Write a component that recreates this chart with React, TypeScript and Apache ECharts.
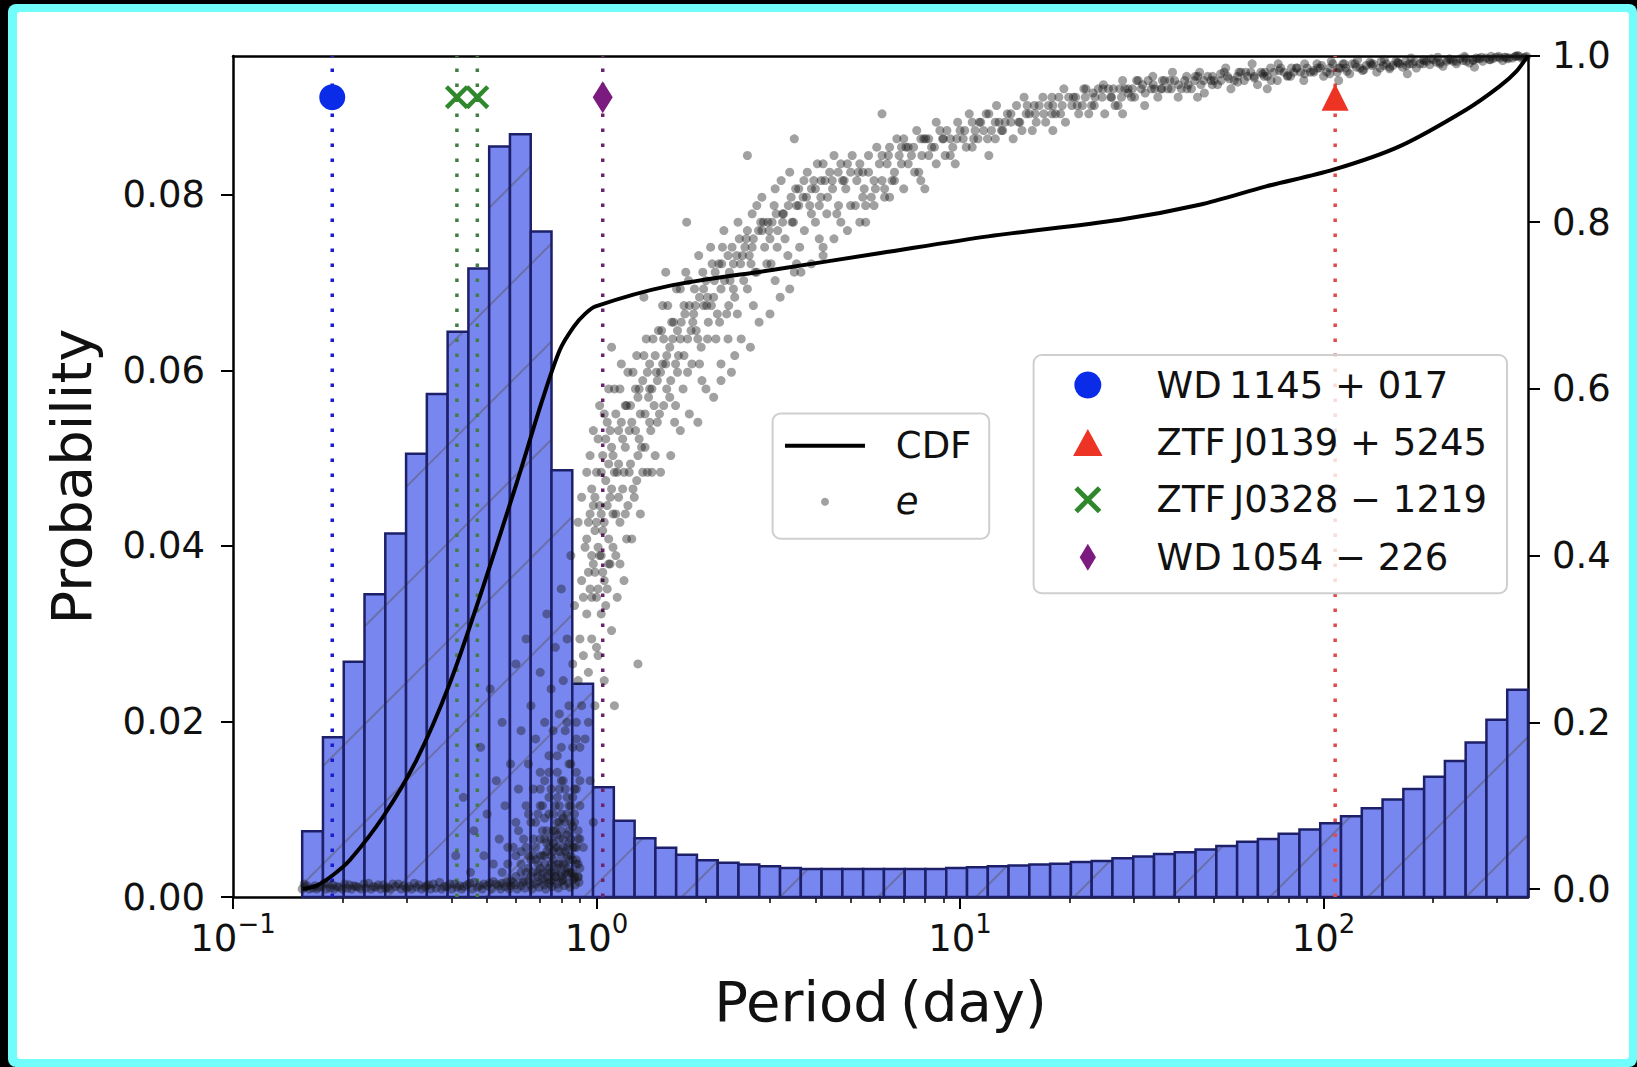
import React, { useEffect, useRef } from 'react';
import * as echarts from 'echarts';

const FONT = 'DejaVu Sans';

// ---- axes ranges ----
const periodMin = 0.1;
const periodMax = 365;
const probMax = 0.0958;

// ---- histogram (59 log-uniform bins between these edges) ----
const histFirstEdge = 0.155;
const histLastEdge = 365;
const histProb = [
  0.0075, 0.0182, 0.0268, 0.0345, 0.0414, 0.0505, 0.0573, 0.0644, 0.0716, 0.0855,
  0.0869, 0.0758, 0.0486, 0.0243, 0.0125, 0.0087, 0.0067, 0.0056, 0.0048, 0.0042,
  0.0039, 0.0037, 0.0035, 0.0033, 0.0032, 0.0032, 0.0032, 0.0032, 0.0032, 0.0032,
  0.0032, 0.0033, 0.0034, 0.0035, 0.0036, 0.0037, 0.0038, 0.0040, 0.0041, 0.0044,
  0.0046, 0.0049, 0.0051, 0.0054, 0.0058, 0.0063, 0.0066, 0.0072, 0.0077, 0.0084,
  0.0092, 0.0101, 0.0111, 0.0123, 0.0137, 0.0155, 0.0176, 0.0202, 0.0236,
];

// ---- CDF ----
const cdfPeriods = [0.1556, 0.17, 0.19, 0.21, 0.259, 0.32, 0.395, 0.487, 0.603, 0.71, 0.793, 0.867, 0.93, 0.994, 1.561, 3.07, 6.05, 11.95, 27.5, 45.6, 69.5, 106.4, 161.7, 246.6, 304.8, 339, 365];
const cdfValues = [0, 0.004, 0.018, 0.035, 0.087, 0.155, 0.247, 0.362, 0.487, 0.587, 0.647, 0.675, 0.69, 0.699, 0.723, 0.743, 0.763, 0.783, 0.803, 0.821, 0.843, 0.863, 0.891, 0.935, 0.963, 0.981, 1.0];

// ---- eccentricity e vs period ----
const eccCircular = [
  [0.155, 0], [0.158, 0.002], [0.162, 0], [0.166, 0.001], [0.17, 0], [0.175, 0.003], [0.18, 0], [0.185, 0.001], [0.19, 0], [0.196, 0.002],
  [0.2, 0], [0.206, 0.001], [0.212, 0], [0.218, 0.003], [0.225, 0], [0.232, 0.001], [0.24, 0], [0.247, 0.002], [0.255, 0], [0.263, 0.001],
  [0.27, 0], [0.28, 0.003], [0.29, 0], [0.3, 0.001], [0.31, 0], [0.32, 0.002], [0.33, 0], [0.34, 0.004], [0.35, 0], [0.362, 0.001],
  [0.375, 0], [0.387, 0.003], [0.4, 0], [0.413, 0.002], [0.426, 0], [0.44, 0.005], [0.455, 0], [0.47, 0.002], [0.485, 0], [0.5, 0.004],
  [0.515, 0], [0.53, 0.006], [0.545, 0], [0.56, 0.003], [0.575, 0], [0.59, 0.008], [0.605, 0], [0.62, 0.004], [0.635, 0.001], [0.65, 0.01],
  [0.665, 0], [0.68, 0.006], [0.695, 0.002], [0.71, 0.012], [0.725, 0], [0.74, 0.007], [0.755, 0.003], [0.77, 0.015], [0.785, 0.001], [0.8, 0.009],
  [0.815, 0.004], [0.83, 0.018], [0.845, 0.002], [0.86, 0.011], [0.875, 0.005], [0.89, 0.014],
  [0.157, 0.006], [0.168, 0.004], [0.178, 0.007], [0.188, 0.005], [0.203, 0.006], [0.215, 0.004], [0.236, 0.007], [0.251, 0.005], [0.275, 0.006], [0.295, 0.004],
  [0.315, 0.007], [0.345, 0.005], [0.37, 0.008], [0.395, 0.006], [0.42, 0.004], [0.46, 0.008], [0.49, 0.006], [0.52, 0.009], [0.55, 0.007], [0.58, 0.004],
  [0.16, 0.004], [0.172, 0.002], [0.183, 0.006], [0.193, 0.003], [0.209, 0.005], [0.221, 0.002], [0.229, 0.006], [0.243, 0.003], [0.259, 0.005], [0.267, 0.002],
  [0.285, 0.006], [0.305, 0.003], [0.325, 0.005], [0.338, 0.002], [0.356, 0.006], [0.381, 0.003], [0.407, 0.006], [0.432, 0.003], [0.448, 0.007], [0.477, 0.004],
  [0.508, 0.007], [0.538, 0.004], [0.567, 0.008], [0.598, 0.005], [0.627, 0.008], [0.658, 0.005], [0.688, 0.009], [0.718, 0.005], [0.748, 0.01], [0.778, 0.006],
  [0.808, 0.012], [0.838, 0.007], [0.868, 0.013], [0.895, 0.008],
];
const eccShort = [
  [0.41, 0.04], [0.43, 0.11], [0.45, 0.02], [0.46, 0.07], [0.48, 0.17], [0.49, 0.04], [0.5, 0.09], [0.51, 0.24], [0.52, 0.03], [0.53, 0.13],
  [0.54, 0.06], [0.55, 0.2], [0.56, 0.1], [0.57, 0.03], [0.58, 0.15], [0.59, 0.05], [0.6, 0.27], [0.6, 0.08], [0.61, 0.12], [0.62, 0.02],
  [0.62, 0.19], [0.63, 0.06], [0.64, 0.1], [0.64, 0.3], [0.65, 0.04], [0.65, 0.15], [0.66, 0.08], [0.66, 0.22], [0.67, 0.02], [0.67, 0.12],
  [0.68, 0.05], [0.68, 0.18], [0.69, 0.09], [0.69, 0.03], [0.7, 0.14], [0.7, 0.26], [0.7, 0.06], [0.71, 0.02], [0.71, 0.1], [0.72, 0.2],
  [0.72, 0.04], [0.72, 0.13], [0.73, 0.07], [0.73, 0.33], [0.73, 0.02], [0.74, 0.16], [0.74, 0.09], [0.74, 0.05], [0.75, 0.24], [0.75, 0.12],
  [0.75, 0.03], [0.76, 0.07], [0.76, 0.19], [0.76, 0.01], [0.77, 0.1], [0.77, 0.05], [0.77, 0.29], [0.78, 0.14], [0.78, 0.03], [0.78, 0.08],
  [0.79, 0.21], [0.79, 0.06], [0.79, 0.12], [0.8, 0.02], [0.8, 0.17], [0.8, 0.09], [0.8, 0.36], [0.81, 0.05], [0.81, 0.13], [0.81, 0.25],
  [0.82, 0.03], [0.82, 0.08], [0.82, 0.19], [0.83, 0.11], [0.83, 0.04], [0.83, 0.3], [0.84, 0.15], [0.84, 0.07], [0.84, 0.22], [0.85, 0.02],
  [0.85, 0.1], [0.85, 0.4], [0.86, 0.17], [0.86, 0.05], [0.86, 0.27], [0.87, 0.12], [0.87, 0.08], [0.87, 0.34], [0.88, 0.03], [0.88, 0.2],
  [0.88, 0.14], [0.89, 0.06], [0.89, 0.25], [0.89, 0.44], [0.9, 0.1], [0.9, 0.3], [0.9, 0.17], [0.91, 0.37], [0.91, 0.22], [0.92, 0.05], [0.92, 0.28],
  [0.6, 0.015], [0.62, 0.045], [0.64, 0.02], [0.66, 0.035], [0.67, 0.06], [0.69, 0.015], [0.7, 0.04], [0.71, 0.07], [0.72, 0.01], [0.73, 0.045],
  [0.74, 0.025], [0.75, 0.06], [0.76, 0.035], [0.77, 0.015], [0.78, 0.05], [0.79, 0.03], [0.8, 0.07], [0.81, 0.01], [0.82, 0.045], [0.83, 0.065],
  [0.84, 0.02], [0.85, 0.04], [0.86, 0.075], [0.87, 0.015], [0.88, 0.05], [0.89, 0.03], [0.9, 0.06], [0.76, 0.09], [0.79, 0.1], [0.83, 0.09],
  [0.86, 0.11], [0.72, 0.085],
  [0.55, 0.02], [0.57, 0.05], [0.58, 0.01], [0.6, 0.04], [0.61, 0.07], [0.63, 0.01], [0.64, 0.05], [0.65, 0.09], [0.66, 0.015], [0.67, 0.04],
  [0.68, 0.08], [0.69, 0.02], [0.7, 0.1], [0.71, 0.04], [0.72, 0.06], [0.73, 0.015], [0.74, 0.11], [0.75, 0.04], [0.76, 0.055], [0.77, 0.02],
  [0.78, 0.11], [0.79, 0.045], [0.8, 0.015], [0.81, 0.085], [0.82, 0.12], [0.83, 0.025], [0.84, 0.1], [0.85, 0.06], [0.86, 0.035], [0.87, 0.09],
  [0.88, 0.12], [0.89, 0.015], [0.9, 0.13], [0.74, 0.14], [0.8, 0.13], [0.85, 0.15], [0.7, 0.12], [0.78, 0.16], [0.88, 0.18], [0.83, 0.2],
  [0.62, 0.03], [0.65, 0.025], [0.68, 0.035], [0.7, 0.025], [0.72, 0.03], [0.73, 0.055], [0.75, 0.02], [0.76, 0.045], [0.77, 0.07], [0.78, 0.025],
  [0.79, 0.08], [0.8, 0.04], [0.81, 0.06], [0.82, 0.02], [0.83, 0.05], [0.84, 0.035], [0.85, 0.08], [0.86, 0.02], [0.87, 0.05], [0.88, 0.035],
  [0.89, 0.07], [0.9, 0.025], [0.84, 0.055], [0.81, 0.03], [0.78, 0.065],
];
const eccBand = [
  [0.93, 0.41], [0.93, 0.18], [0.94, 0.33], [0.94, 0.5], [0.95, 0.26], [0.95, 0.44], [0.96, 0.36], [0.96, 0.13], [0.97, 0.48], [0.97, 0.3],
  [0.98, 0.39], [0.98, 0.55], [0.99, 0.22], [0.99, 0.43], [1.0, 0.35], [1.0, 0.5], [1.01, 0.28], [1.01, 0.41], [1.02, 0.58], [1.02, 0.46],
  [1.03, 0.33], [1.04, 0.52], [1.04, 0.38], [1.05, 0.44], [1.05, 0.25], [1.06, 0.49], [1.07, 0.36], [1.07, 0.56], [1.08, 0.42], [1.09, 0.47],
  [1.1, 0.31], [1.1, 0.53], [1.11, 0.45], [1.12, 0.6], [1.13, 0.4], [1.14, 0.5], [1.15, 0.55], [1.16, 0.44], [1.17, 0.63], [1.18, 0.48],
  [1.19, 0.37], [1.2, 0.53], [1.21, 0.58], [1.22, 0.46], [1.24, 0.51], [1.25, 0.42], [1.26, 0.62], [1.28, 0.55], [1.29, 0.49], [1.3, 0.59],
  [1.32, 0.45], [1.33, 0.53], [1.35, 0.64], [1.36, 0.57], [1.38, 0.5], [1.4, 0.6], [1.41, 0.55], [1.43, 0.66], [1.45, 0.52], [1.47, 0.61],
  [1.49, 0.57], [1.12, 0.22], [0.98, 0.08], [1.3, 0.27], [1.77, 0.8], [1.1, 0.65], [1.35, 0.71], [2.6, 0.88], [1.55, 0.74],
  [1.51, 0.67], [1.53, 0.58], [1.55, 0.63], [1.57, 0.7], [1.6, 0.61], [1.62, 0.66], [1.64, 0.56], [1.66, 0.72], [1.68, 0.64], [1.71, 0.68],
  [1.73, 0.6], [1.76, 0.74], [1.78, 0.66], [1.8, 0.7], [1.83, 0.63], [1.86, 0.72], [1.88, 0.67], [1.91, 0.76], [1.94, 0.65], [1.97, 0.7],
  [2.0, 0.73], [2.03, 0.68], [2.06, 0.77], [2.1, 0.71], [2.13, 0.66], [2.17, 0.75], [2.2, 0.72], [2.24, 0.79], [2.28, 0.69], [2.32, 0.74],
  [2.36, 0.77], [2.4, 0.71], [2.45, 0.8], [2.49, 0.75],
  [2.54, 0.73], [2.58, 0.78], [2.63, 0.76], [2.68, 0.81], [2.73, 0.74], [2.79, 0.79], [2.85, 0.83], [2.9, 0.77], [2.96, 0.8], [3.02, 0.75],
  [3.08, 0.82], [3.15, 0.79], [3.22, 0.85], [3.3, 0.78], [3.37, 0.82], [3.45, 0.8], [3.53, 0.84], [3.62, 0.77], [3.7, 0.83], [3.8, 0.86],
  [3.9, 0.81], [4.0, 0.84], [4.1, 0.82], [4.2, 0.87], [4.32, 0.83], [4.45, 0.85], [4.58, 0.81], [4.7, 0.87], [4.85, 0.84], [5.0, 0.86],
  [3.5, 0.9], [6.1, 0.93], [2.2, 0.61], [4.2, 0.77],
  [1.03, 0.45], [1.08, 0.51], [1.15, 0.47], [1.23, 0.55], [1.31, 0.54], [1.39, 0.59], [1.46, 0.62], [1.52, 0.63], [1.59, 0.65], [1.67, 0.67],
  [1.75, 0.69], [1.84, 0.68], [1.92, 0.71], [2.01, 0.7], [2.11, 0.73], [2.21, 0.75], [2.33, 0.73], [2.43, 0.76], [2.56, 0.77], [2.7, 0.78],
  [2.83, 0.8], [2.98, 0.79], [3.12, 0.81], [3.27, 0.81], [3.43, 0.83], [3.6, 0.82], [3.78, 0.83], [3.96, 0.85], [4.15, 0.85], [4.38, 0.86],
  [4.62, 0.86], [4.9, 0.87],
  [0.91, 0.47], [0.92, 0.35], [0.94, 0.42], [0.95, 0.2], [0.96, 0.52], [0.97, 0.4], [0.99, 0.47], [1.0, 0.29], [1.01, 0.54], [1.03, 0.4],
  [1.05, 0.57], [1.06, 0.34], [1.08, 0.6], [1.09, 0.39], [1.11, 0.52], [1.13, 0.57], [1.14, 0.35], [1.16, 0.6], [1.18, 0.54], [1.2, 0.45],
  [1.22, 0.62], [1.24, 0.58], [1.27, 0.47], [1.29, 0.64], [1.31, 0.6], [1.34, 0.5], [1.37, 0.66], [1.4, 0.63], [1.42, 0.5], [1.44, 0.58], [1.48, 0.67],
  [1.52, 0.7], [1.56, 0.6], [1.61, 0.68], [1.65, 0.63], [1.7, 0.72], [1.74, 0.64], [1.79, 0.73], [1.85, 0.69], [1.9, 0.66], [1.96, 0.74],
  [2.02, 0.71], [2.08, 0.75], [2.15, 0.69], [2.22, 0.77], [2.3, 0.76], [2.38, 0.72], [2.47, 0.78], [2.6, 0.79], [2.66, 0.75], [2.76, 0.82],
  [2.88, 0.8], [3.0, 0.78], [3.1, 0.84], [3.25, 0.8], [3.4, 0.86], [3.55, 0.82], [3.72, 0.85], [3.9, 0.84], [4.05, 0.87], [4.25, 0.85],
  [4.5, 0.88], [4.75, 0.85], [2.4, 0.64], [3.5, 0.74],
  [0.95, 0.38], [0.96, 0.45], [0.97, 0.35], [0.98, 0.46], [0.99, 0.38], [1.0, 0.44], [1.01, 0.36], [1.02, 0.4], [1.03, 0.5], [1.04, 0.43],
  [1.05, 0.37], [1.06, 0.54], [1.07, 0.46], [1.08, 0.39], [1.09, 0.55], [1.1, 0.48], [1.11, 0.41], [1.12, 0.5], [1.13, 0.45], [1.15, 0.51],
  [1.16, 0.39], [1.17, 0.56], [1.19, 0.5], [1.2, 0.58], [1.21, 0.42], [1.23, 0.5], [1.25, 0.56], [1.26, 0.48], [1.28, 0.6], [1.3, 0.52],
  [1.32, 0.57], [1.34, 0.61], [1.36, 0.53], [1.38, 0.62], [1.4, 0.56], [1.42, 0.6], [1.45, 0.64], [1.47, 0.56], [1.5, 0.62], [1.53, 0.66],
  [1.56, 0.64], [1.59, 0.59], [1.63, 0.68], [1.67, 0.62], [1.7, 0.66], [1.74, 0.7], [1.78, 0.62], [1.82, 0.67], [1.87, 0.7], [1.92, 0.63], [1.97, 0.72],
  [2.02, 0.66], [2.07, 0.7], [2.12, 0.74], [2.18, 0.68], [2.25, 0.73], [2.31, 0.7], [2.38, 0.75], [2.44, 0.69], [2.52, 0.76], [2.6, 0.72],
  [2.68, 0.77], [2.76, 0.74], [2.85, 0.79], [2.94, 0.75], [3.04, 0.8], [3.14, 0.77], [3.25, 0.81], [3.36, 0.76], [3.48, 0.8], [3.6, 0.84],
  [3.73, 0.79], [3.86, 0.82], [4.0, 0.8], [4.14, 0.83], [4.3, 0.81], [4.46, 0.84], [4.63, 0.82], [4.8, 0.85], [5.0, 0.82], [5.2, 0.85],
  [5.4, 0.83], [5.6, 0.86], [5.85, 0.84], [6.1, 0.85],
  [1.5, 0.5], [1.6, 0.52], [1.7, 0.55], [1.8, 0.57], [1.9, 0.56], [2.0, 0.6], [2.1, 0.59], [2.2, 0.63], [2.35, 0.62], [2.5, 0.66],
  [2.65, 0.65], [2.8, 0.68], [3.0, 0.69], [3.2, 0.71], [3.4, 0.72], [3.65, 0.74], [3.9, 0.75], [4.2, 0.76], [4.5, 0.78], [4.9, 0.79],
  [5.3, 0.8], [5.8, 0.82], [6.4, 0.83], [7.0, 0.84], [7.8, 0.85], [1.65, 0.58], [1.95, 0.61], [2.3, 0.66], [2.7, 0.7], [3.1, 0.73],
  [3.55, 0.75], [4.1, 0.78], [4.7, 0.8], [5.5, 0.82], [6.2, 0.84],
];
const eccLong = [
  [5.15, 0.82], [5.3, 0.87], [5.45, 0.84], [5.6, 0.88], [5.8, 0.85], [6.0, 0.87], [6.2, 0.83], [6.4, 0.89], [6.6, 0.86], [6.8, 0.88],
  [7.0, 0.9], [7.2, 0.87], [7.45, 0.89], [7.7, 0.86], [7.95, 0.9], [8.2, 0.88], [8.5, 0.89], [8.8, 0.91], [9.1, 0.88], [9.4, 0.9],
  [9.7, 0.87], [10.0, 0.91], [10.4, 0.89], [10.8, 0.92], [11.2, 0.9], [11.6, 0.91], [12.0, 0.93],
  [12.5, 0.9], [13.0, 0.91], [13.5, 0.93], [14.0, 0.9], [14.6, 0.92], [15.2, 0.93], [15.8, 0.91], [16.5, 0.94], [17.2, 0.92], [17.9, 0.93],
  [18.7, 0.95], [19.5, 0.92], [20.3, 0.94], [21.2, 0.93], [22.1, 0.95], [23.0, 0.94], [24.0, 0.96], [25.0, 0.93], [26.1, 0.95], [27.2, 0.94],
  [28.4, 0.96], [29.6, 0.95], [30.9, 0.97], [32.2, 0.94], [33.6, 0.96], [35.0, 0.95], [36.5, 0.97], [38.1, 0.96], [39.8, 0.95],
  [41.5, 0.97], [43.3, 0.96], [45.1, 0.975], [47.0, 0.955], [49.0, 0.97], [51.1, 0.965], [53.3, 0.98], [55.6, 0.96], [58.0, 0.975], [60.5, 0.97],
  [63.1, 0.98], [65.8, 0.965], [68.6, 0.975], [71.5, 0.985], [74.6, 0.97], [77.8, 0.98], [81.1, 0.975], [84.6, 0.985], [88.2, 0.97], [92.0, 0.98],
  [95.9, 0.99], [100, 0.975], [104, 0.985], [109, 0.98], [113, 0.99], [118, 0.978], [123, 0.986], [128, 0.982], [134, 0.992], [140, 0.98],
  [146, 0.988], [152, 0.984], [158, 0.993], [165, 0.986], [172, 0.99], [180, 0.985], [188, 0.995], [196, 0.989], [204, 0.992], [213, 0.987],
  [222, 0.996], [232, 0.99], [242, 0.994], [252, 0.991], [263, 0.997], [274, 0.993], [286, 0.995], [298, 0.998], [311, 0.994], [324, 0.997],
  [338, 0.999], [352, 0.996], [362, 0.999],
  [5.25, 0.86], [5.7, 0.83], [6.1, 0.88], [6.5, 0.85], [6.9, 0.89], [7.35, 0.88], [7.8, 0.9], [8.35, 0.89], [8.95, 0.9], [9.55, 0.89],
  [10.2, 0.9], [10.9, 0.9], [11.4, 0.92], [12.2, 0.91], [12.8, 0.92], [13.8, 0.92], [14.8, 0.91], [15.5, 0.93], [16.2, 0.92], [17.5, 0.94],
  [18.3, 0.93], [19.1, 0.94], [20.8, 0.95], [21.7, 0.94], [22.6, 0.93], [23.5, 0.95], [24.6, 0.95], [25.6, 0.96], [26.7, 0.94], [27.8, 0.95],
  [29.0, 0.96], [30.2, 0.95], [31.5, 0.96], [32.9, 0.97], [34.3, 0.96], [35.7, 0.96], [37.3, 0.96], [38.9, 0.97], [40.6, 0.96], [42.4, 0.965],
  [44.2, 0.97], [46.0, 0.965], [48.0, 0.975], [50.0, 0.97], [52.2, 0.97], [54.4, 0.975], [56.8, 0.97], [59.2, 0.98], [61.8, 0.975], [64.4, 0.975],
  [67.2, 0.98], [70.0, 0.975], [73.0, 0.98], [76.2, 0.985], [79.5, 0.975], [82.8, 0.98], [86.4, 0.98], [90.1, 0.985], [94.0, 0.98], [98.0, 0.985],
  [102, 0.98], [106, 0.99], [111, 0.985], [115, 0.985], [120, 0.99], [126, 0.985], [131, 0.988], [137, 0.99], [143, 0.985], [149, 0.99],
  [155, 0.988], [162, 0.99], [168, 0.993], [176, 0.99], [184, 0.99], [192, 0.993], [200, 0.995], [209, 0.99], [218, 0.993], [227, 0.993],
  [237, 0.996], [247, 0.993], [258, 0.995], [269, 0.996], [280, 0.997], [292, 0.996], [305, 0.997], [318, 0.998], [331, 0.997], [345, 0.999], [358, 0.998],
  [5.05, 0.88], [5.4, 0.86], [5.9, 0.89], [6.3, 0.87], [6.7, 0.9], [7.1, 0.89], [7.6, 0.91], [8.05, 0.9], [8.6, 0.92], [9.2, 0.91],
  [9.85, 0.92], [10.6, 0.93], [11.0, 0.91], [11.8, 0.93], [12.6, 0.94], [13.3, 0.92], [14.3, 0.94], [15.0, 0.95], [16.0, 0.94], [16.9, 0.95],
  [18.0, 0.94], [19.3, 0.96], [20.5, 0.95], [21.9, 0.96], [23.2, 0.955], [24.8, 0.965], [26.4, 0.96], [28.0, 0.97], [29.8, 0.96], [31.8, 0.965],
  [33.9, 0.975], [36.0, 0.97], [38.4, 0.98],
  [42, 0.975], [45.6, 0.98], [49.5, 0.975], [53.8, 0.985], [58.5, 0.98], [63.6, 0.99], [69, 0.98], [75, 0.99], [81.6, 0.985], [88.7, 0.99],
  [96.4, 0.985], [105, 0.993], [114, 0.99], [124, 0.995], [135, 0.99], [147, 0.995], [160, 0.992], [174, 0.997], [189, 0.994], [206, 0.998],
  [224, 0.995], [244, 0.999], [265, 0.996], [289, 0.999], [314, 0.998], [342, 1.0],
  [5.5, 0.8], [8, 0.84], [12, 0.88], [18, 0.91], [28, 0.93], [45, 0.95], [70, 0.96], [110, 0.97], [170, 0.978], [260, 0.986],
  [6.35, 0.88], [6.6, 0.85], [6.9, 0.87], [7.2, 0.89], [7.5, 0.86], [7.85, 0.88], [8.2, 0.9], [8.6, 0.87], [9.0, 0.9], [9.4, 0.88],
  [9.8, 0.9], [10.3, 0.91], [10.8, 0.89], [11.3, 0.92], [11.9, 0.9], [12.5, 0.92], [13.1, 0.91], [13.8, 0.93], [14.5, 0.92], [15.3, 0.94],
  [16.1, 0.93], [17.0, 0.93], [17.9, 0.95], [18.9, 0.93], [19.9, 0.95], [21.0, 0.94], [22.2, 0.96], [23.4, 0.94], [24.7, 0.96], [26.0, 0.95],
  [27.5, 0.96], [29.0, 0.955],
  [30.6, 0.97], [32.3, 0.955], [34.0, 0.965], [35.9, 0.96], [37.8, 0.97], [39.9, 0.965], [42.1, 0.96], [44.4, 0.975], [46.8, 0.97], [49.4, 0.965],
  [52.1, 0.978], [55, 0.972], [58, 0.968], [61, 0.98], [64.5, 0.973], [68, 0.978], [71.7, 0.97], [75.6, 0.982], [79.8, 0.976], [84.2, 0.985],
  [88.8, 0.978], [93.7, 0.982], [98.8, 0.988], [104, 0.978], [110, 0.985], [116, 0.981], [122, 0.99], [129, 0.983], [136, 0.988], [144, 0.993],
  [152, 0.986], [160, 0.991], [169, 0.988], [178, 0.993], [188, 0.99], [198, 0.996], [209, 0.992], [220, 0.995], [232, 0.993], [245, 0.997],
  [258, 0.994], [272, 0.998], [287, 0.995], [303, 0.999], [320, 0.996], [337, 0.999], [355, 0.997],
];

// ---- observed systems ----
const targetNames = ['WD\u20091145 + 017', 'ZTF\u2009J0139 + 5245', 'ZTF\u2009J0328 \u2212 1219', 'WD\u20091054 \u2212 226'];
const targetPeriods = [[0.1875], [107.6], [0.413, 0.47], [1.04]];
const targetColors = ['#0a2ce8', '#ec3324', '#2f892c', '#7b1a7f'];
const targetLineColors = ['#1c1ccf', '#e14a4a', '#447d44', '#6c236c'];
const markerLevel = 0.95;

const majorTicks = [0.1, 1, 10, 100];
const minorTicks = [0.2, 0.3, 0.4, 0.5, 0.6, 0.7, 0.8, 0.9, 2, 3, 4, 5, 6, 7, 8, 9, 20, 30, 40, 50, 60, 70, 80, 90, 200, 300];
const probTicks = [0, 0.02, 0.04, 0.06, 0.08];

const X_PATH = 'path://M0,2.6 L2.6,0 L10,7.4 L17.4,0 L20,2.6 L12.6,10 L20,17.4 L17.4,20 L10,12.6 L2.6,20 L0,17.4 L7.4,10 Z';
const DIAMOND_PATH = 'path://M6,0 L12,10 L6,20 L0,10 Z';
const TRIANGLE_PATH = 'path://M6,0 L12,11 L0,11 Z';
const LINE_PATH = 'path://M0,0 L80,0 L80,4 L0,4 Z';

export default function App() {
  const ref = useRef<HTMLDivElement>(null);

  useEffect(() => {
    const chart = echarts.init(ref.current!, null, { renderer: 'svg' });

    const nB = histProb.length;
    const ratio = histLastEdge / histFirstEdge;
    const edge = (i: number) => histFirstEdge * Math.pow(ratio, i / nB);
    const histData = histProb.map((p, i) => [edge(i), edge(i + 1), p]);

    const hatchSpacing = 98;
    const hatchOffset = 11;

    const renderBar = (params: any, api: any) => {
      const x0 = api.value(0);
      const x1 = api.value(1);
      const h = api.value(2);
      const pTop = api.coord([x0, h]);
      const pBot = api.coord([x1, 0]);
      const xL = pTop[0], yT = pTop[1], xR = pBot[0], yB = pBot[1];
      const children: any[] = [
        {
          type: 'rect',
          shape: { x: xL, y: yT, width: xR - xL, height: yB - yT },
          style: { fill: '#7886f0', stroke: 'none' },
        },
      ];
      const kMin = Math.ceil((xL + yT - hatchOffset) / hatchSpacing);
      const kMax = Math.floor((xR + yB - hatchOffset) / hatchSpacing);
      for (let k = kMin; k <= kMax; k++) {
        const c = hatchOffset + k * hatchSpacing;
        const xa = Math.max(xL, c - yB);
        const xb = Math.min(xR, c - yT);
        if (xb > xa) {
          children.push({
            type: 'line',
            shape: { x1: xa, y1: c - xa, x2: xb, y2: c - xb },
            style: { stroke: 'rgba(95,95,110,0.55)', lineWidth: 2 },
          });
        }
      }
      children.push({
        type: 'rect',
        shape: { x: xL, y: yT, width: xR - xL, height: yB - yT },
        style: { fill: 'none', stroke: '#1d2068', lineWidth: 2.5 },
      });
      return { type: 'group', children };
    };

    const vlineSeries: any[] = [];
    targetPeriods.forEach((ps, ti) => {
      ps.forEach((p) => {
        vlineSeries.push({
          type: 'line',
          name: 'vline' + ti + '_' + p,
          xAxisIndex: 0,
          yAxisIndex: 0,
          data: [[p, 0], [p, probMax]],
          symbol: 'none',
          silent: true,
          z: 3,
          lineStyle: { color: targetLineColors[ti], width: 3.5, type: [3.5, 11.5], cap: 'butt' },
        });
      });
    });

    const markerSymbols = ['circle', 'triangle', X_PATH, DIAMOND_PATH];
    const markerSizes: any[] = [26, 27, 24, [20, 32]];
    const markerSeries = targetNames.map((name, ti) => ({
      type: 'scatter',
      name,
      xAxisIndex: 3,
      yAxisIndex: 2,
      data: targetPeriods[ti].map((p) => [p, markerLevel]),
      symbol: markerSymbols[ti],
      symbolSize: markerSizes[ti],
      itemStyle: { color: targetColors[ti], opacity: 1 },
      z: 7,
      clip: false,
    }));

    const eccData = [...eccCircular, ...eccShort, ...eccBand, ...eccLong];
    const cdfData = cdfPeriods.map((p, i) => [p, cdfValues[i]]);

    const axisLineStyle = { color: '#000', width: 2.5 };
    const tickStyle = { color: '#000', width: 2 };
    const labelBase = { fontFamily: FONT, fontSize: 37, color: '#111' };

    const option: any = {
      animation: false,
      backgroundColor: '#000',
      graphic: [
        { type: 'rect', z: -20, silent: true, shape: { x: 8, y: 4, width: 1629, height: 1063, r: 8 }, style: { fill: '#72fdfd' } },
        { type: 'rect', z: -10, silent: true, shape: { x: 17, y: 12, width: 1612, height: 1047, r: 3 }, style: { fill: '#ffffff' } },
      ],
      grid: [
        { left: 233, right: 109, top: 56, bottom: 170 },
        { left: 233, right: 109, top: 55.5, bottom: 178 },
      ],
      xAxis: [
        {
          gridIndex: 0,
          type: 'log',
          logBase: 10,
          min: periodMin,
          max: periodMax,
          position: 'bottom',
          axisLine: { show: true, onZero: false, lineStyle: axisLineStyle },
          axisTick: { show: true, inside: false, length: 12, lineStyle: tickStyle, customValues: majorTicks },
          minorTick: { show: false },
          splitLine: { show: false },
          axisLabel: {
            customValues: majorTicks,
            margin: 14,
            formatter: (v: number) => {
              const ex = Math.round(Math.log10(v));
              const s = ex < 0 ? '\u2212' + -ex : String(ex);
              return '{b|10}{s|' + s + '}';
            },
            rich: {
              b: { fontFamily: FONT, fontSize: 37, color: '#111', lineHeight: 46, verticalAlign: 'bottom' },
              s: { fontFamily: FONT, fontSize: 26, color: '#111', lineHeight: 24, verticalAlign: 'top' },
            },
          },
          name: 'Period\u2009(day)',
          nameLocation: 'middle',
          nameGap: 72,
          nameTextStyle: { fontFamily: FONT, fontSize: 56, color: '#111', lineHeight: 64 },
        },
        {
          gridIndex: 0,
          type: 'log',
          logBase: 10,
          min: periodMin,
          max: periodMax,
          position: 'bottom',
          axisLine: { show: false },
          axisTick: { show: true, inside: false, length: 6, lineStyle: { color: '#000', width: 1.5 }, customValues: minorTicks },
          axisLabel: { show: false },
          splitLine: { show: false },
        },
        {
          gridIndex: 0,
          type: 'log',
          logBase: 10,
          min: periodMin,
          max: periodMax,
          position: 'top',
          axisLine: { show: true, onZero: false, lineStyle: axisLineStyle },
          axisTick: { show: false },
          axisLabel: { show: false },
          splitLine: { show: false },
        },
        { gridIndex: 1, type: 'log', logBase: 10, min: periodMin, max: periodMax, show: false },
      ],
      yAxis: [
        {
          gridIndex: 0,
          type: 'value',
          min: 0,
          max: probMax,
          position: 'left',
          axisLine: { show: true, onZero: false, lineStyle: axisLineStyle },
          axisTick: { show: true, inside: false, length: 12, lineStyle: tickStyle, customValues: probTicks },
          axisLabel: { ...labelBase, customValues: probTicks, margin: 28, formatter: (v: number) => v.toFixed(2) },
          splitLine: { show: false },
          name: 'Probability',
          nameLocation: 'middle',
          nameRotate: 90,
          nameGap: 130,
          nameTextStyle: { fontFamily: FONT, fontSize: 56, color: '#111', lineHeight: 64 },
        },
        {
          gridIndex: 0,
          type: 'value',
          min: 0,
          max: probMax,
          position: 'right',
          axisLine: { show: true, onZero: false, lineStyle: axisLineStyle },
          axisTick: { show: false },
          axisLabel: { show: false },
          splitLine: { show: false },
        },
        {
          gridIndex: 1,
          type: 'value',
          min: 0,
          max: 1,
          interval: 0.2,
          position: 'right',
          axisLine: { show: false },
          axisTick: { show: true, inside: false, length: 12, lineStyle: tickStyle },
          axisLabel: { ...labelBase, margin: 24, formatter: (v: number) => v.toFixed(1) },
          splitLine: { show: false },
        },
      ],
      legend: [
        {
          data: [{ name: 'CDF', icon: LINE_PATH }, { name: 'e', icon: 'circle' }],
          orient: 'vertical',
          left: 772.6,
          top: 413.4,
          padding: [12.4, 17.8, 16.9, 12.4],
          itemWidth: 80,
          itemHeight: 8,
          itemGap: 16,
          selectedMode: false,
          backgroundColor: 'rgba(255,255,255,0.8)',
          borderColor: '#cfcfcf',
          borderWidth: 2,
          borderRadius: 8,
          z: 10,
          formatter: (n: string) => (n === 'e' ? '{it|e}' : n),
          textStyle: {
            fontFamily: FONT,
            fontSize: 37,
            color: '#111',
            lineHeight: 40,
            padding: [0, 0, 0, 25.8],
            rich: { it: { fontFamily: FONT, fontSize: 37, fontStyle: 'italic', color: '#111', lineHeight: 40 } },
          },
        },
        {
          data: [
            { name: targetNames[0], icon: 'circle' },
            { name: targetNames[1], icon: TRIANGLE_PATH },
            { name: targetNames[2], icon: X_PATH },
            { name: targetNames[3], icon: DIAMOND_PATH },
          ],
          orient: 'vertical',
          left: 1033.6,
          top: 355,
          padding: [10, 20, 16, 39.5],
          itemWidth: 74,
          itemHeight: 27,
          itemGap: 17.4,
          selectedMode: false,
          backgroundColor: 'rgba(255,255,255,0.8)',
          borderColor: '#cfcfcf',
          borderWidth: 2,
          borderRadius: 8,
          z: 10,
          textStyle: { fontFamily: FONT, fontSize: 37, color: '#111', lineHeight: 40, padding: [0, 0, 0, 26.8] },
        },
      ],
      series: [
        {
          type: 'custom',
          name: 'hist',
          xAxisIndex: 0,
          yAxisIndex: 0,
          renderItem: renderBar,
          data: histData,
          encode: { x: [0, 1], y: 2 },
          silent: true,
          z: 2,
        },
        ...vlineSeries,
        {
          type: 'scatter',
          name: 'e',
          xAxisIndex: 3,
          yAxisIndex: 2,
          data: eccData,
          symbol: 'circle',
          symbolSize: 9,
          itemStyle: { color: 'rgba(20,20,20,0.5)' },
          clip: false,
          silent: true,
          z: 4,
        },
        {
          type: 'line',
          name: 'CDF',
          xAxisIndex: 3,
          yAxisIndex: 2,
          data: cdfData,
          symbol: 'none',
          smooth: 0.3,
          lineStyle: { color: '#000', width: 4 },
          itemStyle: { color: '#000' },
          silent: true,
          z: 5,
        },
        ...markerSeries,
      ],
    };

    chart.setOption(option);
    return () => chart.dispose();
  }, []);

  return <div ref={ref} style={{ position: 'fixed', left: 0, top: 0, width: 1637, height: 1067 }} />;
}
